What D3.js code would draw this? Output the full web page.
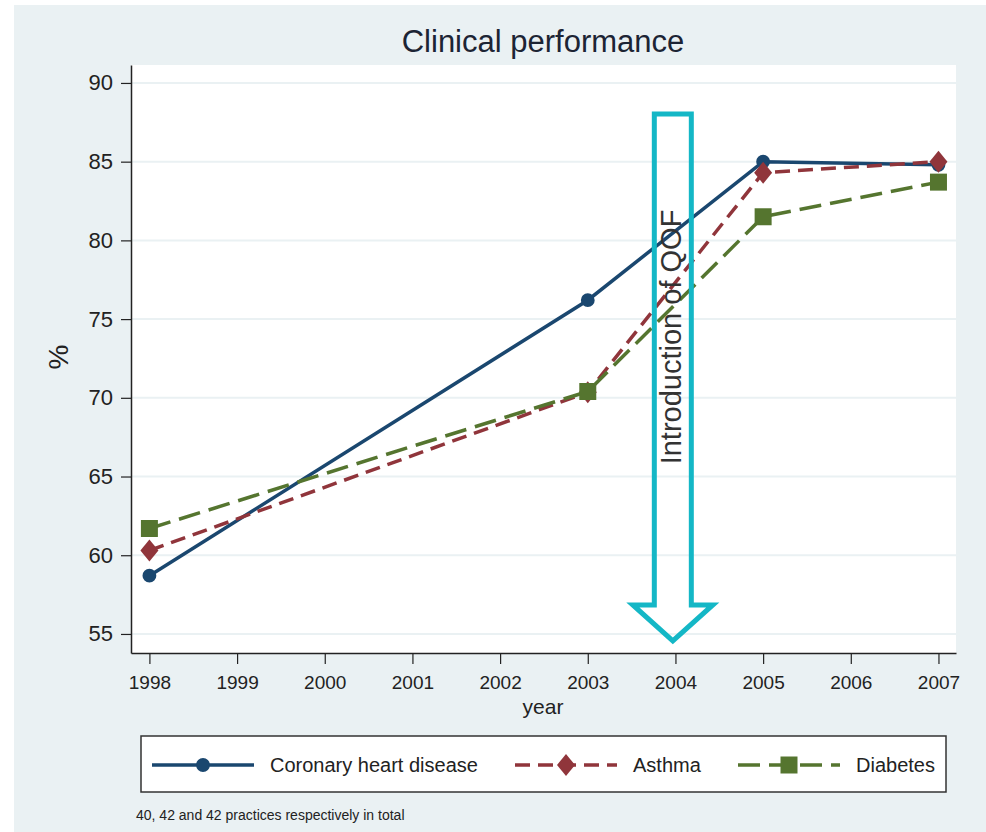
<!DOCTYPE html>
<html>
<head>
<meta charset="utf-8">
<script src="https://cdn.jsdelivr.net/npm/d3@7"></script>
<style>
  body { margin: 0; background: #ffffff; }
  svg text { font-family: "Liberation Sans", Arial, sans-serif; }
</style>
</head>
<body>
<div id="chart"></div>
<script>
var svgWidth = 986;
var svgHeight = 832;

// data
var years = [1998, 2003, 2005, 2007];
var chd = [58.7, 76.2, 85.0, 84.8];
var asthma = [60.3, 70.35, 84.3, 85.0];
var diabetes = [61.7, 70.4, 81.5, 83.7];
var seriesNames = ["Coronary heart disease", "Asthma", "Diabetes"];
var xTicks = [1998, 1999, 2000, 2001, 2002, 2003, 2004, 2005, 2006, 2007];
var yTicks = [55, 60, 65, 70, 75, 80, 85, 90];

// QOF annotation (year, top, head base, tip in %)
var qofYear = 2003.97;
var qofTop = 88.03;
var qofHead = 56.84;
var qofTip = 54.56;

var plot = { left: 131, right: 956, top: 65, bottom: 653 };

var svg = d3.select("#chart")
    .append("svg")
    .attr("width", svgWidth)
    .attr("height", svgHeight);

// graph region background
svg.append("rect")
    .attr("x", 14).attr("y", 5)
    .attr("width", svgWidth - 14).attr("height", svgHeight - 5)
    .attr("fill", "#eaf1f3");

svg.append("rect")
    .attr("x", plot.left).attr("y", plot.top)
    .attr("width", plot.right - plot.left).attr("height", plot.bottom - plot.top)
    .attr("fill", "#ffffff");

var x = d3.scaleLinear()
    .domain([1997.79, 2007.2])
    .range([plot.left, plot.right]);

var y = d3.scaleLinear()
    .domain([53.79, 91.14])
    .range([plot.bottom, plot.top]);

// grid
svg.append("g")
    .selectAll("line")
    .data(yTicks)
    .join("line")
    .attr("x1", plot.left).attr("x2", plot.right)
    .attr("y1", d => y(d)).attr("y2", d => y(d))
    .attr("stroke", "#eaf1f3")
    .attr("stroke-width", 2);

// axes
var yAxis = svg.append("g")
    .attr("transform", `translate(${plot.left},0)`)
    .call(d3.axisLeft(y).tickValues(yTicks).tickSize(10).tickPadding(8).tickSizeOuter(0));
yAxis.select(".domain").attr("stroke", "#222").attr("stroke-width", 1.5);
yAxis.selectAll(".tick line").attr("stroke", "#222").attr("stroke-width", 1.2);
yAxis.selectAll("text").attr("font-size", 22).attr("fill", "#222")
    .attr("font-family", "Liberation Sans, Arial, sans-serif");

var xAxis = svg.append("g")
    .attr("transform", `translate(0,${plot.bottom})`)
    .call(d3.axisBottom(x).tickValues(xTicks).tickFormat(d3.format("d")).tickSize(11).tickPadding(12).tickSizeOuter(0));
xAxis.select(".domain").attr("stroke", "#222").attr("stroke-width", 1.5);
xAxis.selectAll(".tick line").attr("stroke", "#222").attr("stroke-width", 1.2);
xAxis.selectAll("text").attr("font-size", 19).attr("fill", "#222")
    .attr("font-family", "Liberation Sans, Arial, sans-serif");

// titles
svg.append("text")
    .attr("x", 543).attr("y", 52)
    .attr("text-anchor", "middle")
    .attr("font-size", 31)
    .attr("fill", "#1c2434")
    .text("Clinical performance");

svg.append("text")
    .attr("x", 543).attr("y", 714)
    .attr("text-anchor", "middle")
    .attr("font-size", 21)
    .attr("fill", "#222")
    .text("year");

svg.append("text")
    .attr("transform", "translate(68,357) rotate(-90)")
    .attr("text-anchor", "middle")
    .attr("font-size", 28)
    .attr("fill", "#222")
    .text("%");

// series
var series = [
    { name: seriesNames[0], values: chd, color: "#1a476f", dash: null, marker: "circle" },
    { name: seriesNames[1], values: asthma, color: "#90353b", dash: "15,8", marker: "diamond" },
    { name: seriesNames[2], values: diabetes, color: "#55752f", dash: "22,9", marker: "square" }
];

var line = d3.line()
    .x((d, i) => x(years[i]))
    .y(d => y(d));

function markerPath(type) {
    if (type === "circle") return d3.symbol(d3.symbolCircle, 150)();
    if (type === "diamond") return "M0,-11L9,0L0,11L-9,0Z";
    return "M-8.5,-8.5H8.5V8.5H-8.5Z";
}

series.forEach(function(s) {
    svg.append("path")
        .datum(s.values)
        .attr("d", line)
        .attr("fill", "none")
        .attr("stroke", s.color)
        .attr("stroke-width", 3.5)
        .attr("stroke-dasharray", s.dash);

    svg.append("g")
        .selectAll("path")
        .data(s.values)
        .join("path")
        .attr("transform", (d, i) => `translate(${x(years[i])},${y(d)})`)
        .attr("d", markerPath(s.marker))
        .attr("fill", s.color);
});

// QOF arrow
var ax = x(qofYear);
var shaftHalf = 18.5;
var headHalf = 40;
var arrowPath = d3.path();
arrowPath.moveTo(ax - shaftHalf, y(qofHead));
arrowPath.lineTo(ax - shaftHalf, y(qofTop));
arrowPath.lineTo(ax + shaftHalf, y(qofTop));
arrowPath.lineTo(ax + shaftHalf, y(qofHead));
arrowPath.lineTo(ax + headHalf, y(qofHead));
arrowPath.lineTo(ax, y(qofTip));
arrowPath.lineTo(ax - headHalf, y(qofHead));
arrowPath.closePath();

svg.append("path")
    .attr("d", arrowPath.toString())
    .attr("fill", "none")
    .attr("stroke", "#14b7c6")
    .attr("stroke-width", 5)
    .attr("stroke-linejoin", "miter");

svg.append("text")
    .attr("transform", `translate(${ax + 8},337) rotate(-90)`)
    .attr("text-anchor", "middle")
    .attr("font-size", 29)
    .attr("fill", "#333")
    .text("Introduction of QOF");

// legend
var legend = svg.append("g");
legend.append("rect")
    .attr("x", 141).attr("y", 736)
    .attr("width", 805).attr("height", 56)
    .attr("fill", "#ffffff")
    .attr("stroke", "#333")
    .attr("stroke-width", 1.5);

var legendX = [152, 515, 738];
series.forEach(function(s, i) {
    var lx = legendX[i];
    legend.append("line")
        .attr("x1", lx).attr("x2", lx + 102)
        .attr("y1", 765).attr("y2", 765)
        .attr("stroke", s.color)
        .attr("stroke-width", 3.5)
        .attr("stroke-dasharray", s.dash);
    legend.append("path")
        .attr("transform", `translate(${lx + 51},765)`)
        .attr("d", markerPath(s.marker))
        .attr("fill", s.color);
    legend.append("text")
        .attr("x", lx + 118).attr("y", 772)
        .attr("font-size", 20)
        .attr("fill", "#222")
        .text(s.name);
});

svg.append("text")
    .attr("x", 136).attr("y", 820)
    .attr("font-size", 14)
    .attr("fill", "#222")
    .text("40, 42 and 42 practices respectively in total");
</script>
</body>
</html>
